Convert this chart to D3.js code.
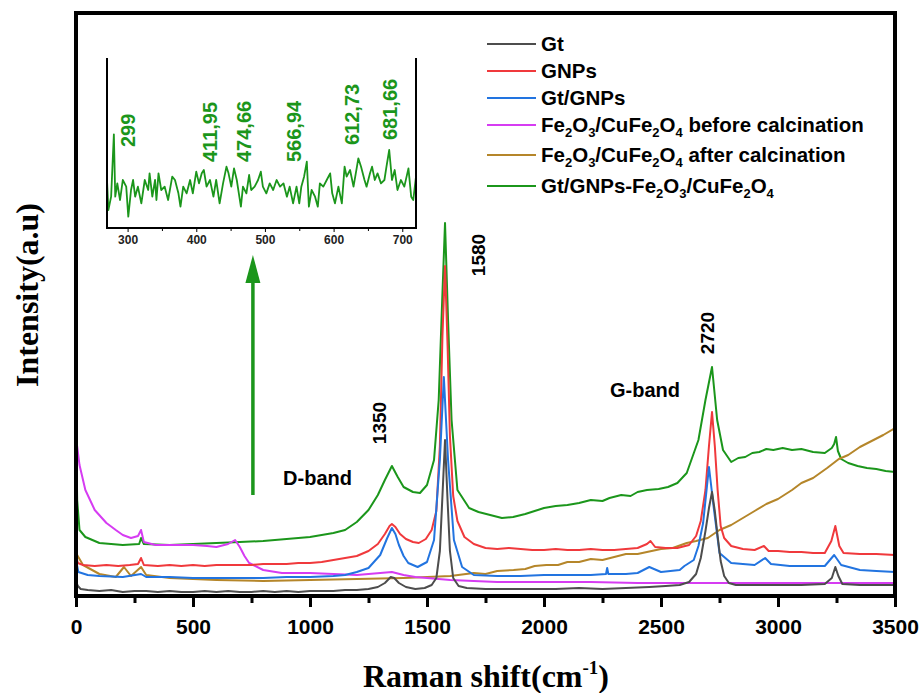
<!DOCTYPE html>
<html>
<head>
<meta charset="utf-8">
<script src="https://cdn.jsdelivr.net/npm/d3@7"></script>
<style>
  body { margin: 0; background: #fff; }
  text { font-family: "Liberation Sans", Arial, sans-serif; }
</style>
</head>
<body>
<svg id="chart"></svg>
<script>
// Raman spectra, [wavenumber, intensity (a.u.)]
const gt = [[0,14],[8,10],[20,7],[50,6],[100,5],[150,6],[200,4],[250,5],[300,5],[350,4],[400,5],[450,4],[500,4],[550,5],[600,4],[650,5],[700,4],[750,4],[800,5],[850,4],[900,5],[950,4],[1000,5],[1050,5],[1100,5],[1150,6],[1200,6],[1250,7],[1290,9],[1320,13],[1345,19],[1360,18],[1380,13],[1410,9],[1450,7],[1490,8],[1520,11],[1540,18],[1555,45],[1565,95],[1577,156],[1588,95],[1598,45],[1612,18],[1635,10],[1670,8],[1750,7],[1850,7],[1950,7],[2050,7],[2150,8],[2250,7],[2350,8],[2450,9],[2520,10],[2580,11],[2620,14],[2650,22],[2670,38],[2690,65],[2705,88],[2718,104],[2730,85],[2742,60],[2755,35],[2770,20],[2790,13],[2820,11],[2900,11],[3000,11],[3100,11],[3200,12],[3230,18],[3245,29],[3258,20],[3275,12],[3350,11],[3420,11],[3500,11]];

const gnps = [[0,40],[8,33],[30,31],[80,30],[130,31],[180,30],[230,31],[265,32],[278,38],[290,31],[350,30],[400,31],[450,30],[500,31],[550,30],[600,31],[650,31],[700,31],[750,31],[800,32],[850,32],[900,32],[950,33],[1000,33],[1050,34],[1100,36],[1150,38],[1200,40],[1250,45],[1290,52],[1320,62],[1340,70],[1350,72],[1365,69],[1385,62],[1410,57],[1440,54],[1465,53],[1495,57],[1520,66],[1540,85],[1555,150],[1566,260],[1577,330],[1588,250],[1598,160],[1612,100],[1630,75],[1660,59],[1700,52],[1750,48],[1800,47],[1850,48],[1900,47],[1950,46],[2000,46],[2050,47],[2100,46],[2150,46],[2200,47],[2250,46],[2300,46],[2350,47],[2400,48],[2440,52],[2455,55],[2475,49],[2520,48],[2570,48],[2620,51],[2650,60],[2670,75],[2690,106],[2705,150],[2718,184],[2730,150],[2742,106],[2755,70],[2770,58],[2800,50],[2850,47],[2900,46],[2940,50],[2960,45],[3000,45],[3050,44],[3100,44],[3150,43],[3200,43],[3228,55],[3245,70],[3262,50],[3280,43],[3350,42],[3420,42],[3500,41]];

const gtGnps = [[0,36],[10,24],[50,21],[100,20],[200,19],[278,22],[300,19],[400,19],[500,18],[600,18],[700,18],[800,18],[900,19],[1000,19],[1100,20],[1150,21],[1200,24],[1250,28],[1300,41],[1330,58],[1350,68],[1365,62],[1380,51],[1400,40],[1420,33],[1460,29],[1500,34],[1530,56],[1555,136],[1572,219],[1590,136],[1615,56],[1650,29],[1700,21],[1800,20],[1900,20],[2000,21],[2100,21],[2200,21],[2265,22],[2270,28],[2275,22],[2350,22],[2400,23],[2450,29],[2500,24],[2580,26],[2600,30],[2640,36],[2660,50],[2680,73],[2705,129],[2725,89],[2750,43],[2800,33],[2900,31],[2945,38],[2970,32],[3050,30],[3100,30],[3200,30],[3240,41],[3270,31],[3350,26],[3420,25],[3500,24]];

const beforeCalc = [[0,159],[15,131],[40,106],[80,86],[130,73],[170,66],[200,61],[235,58],[265,60],[278,66],[290,54],[340,51],[400,51],[500,51],[560,50],[600,49],[650,52],[680,56],[700,49],[720,40],[740,33],[800,26],[880,23],[1000,23],[1100,22],[1200,21],[1300,23],[1350,24],[1400,21],[1450,19],[1600,16],[1800,14],[2000,14],[2200,14],[2400,13],[2600,13],[2800,13],[3000,13],[3200,13],[3400,13],[3500,13]];

const afterCalc = [[0,43],[30,31],[100,22],[170,19],[205,29],[235,20],[278,29],[300,21],[400,18],[600,16],[800,15],[1000,16],[1200,17],[1400,18],[1600,20],[1700,23],[1750,22],[1800,25],[1870,26],[1920,27],[1960,30],[2010,31],[2060,31],[2100,34],[2150,34],[2200,37],[2250,36],[2300,39],[2350,42],[2400,42],[2440,44],[2500,47],[2550,48],[2610,53],[2650,55],[2700,58],[2750,66],[2800,71],[2850,78],[2900,85],[2950,92],[3000,97],[3060,106],[3100,113],[3150,118],[3210,128],[3260,137],[3300,141],[3350,149],[3400,155],[3450,161],[3500,168]];

const composite = [[0,174],[5,96],[15,66],[40,59],[100,53],[200,51],[270,52],[278,58],[290,52],[400,51],[500,52],[600,53],[700,54],[800,55],[900,57],[1000,59],[1100,63],[1150,66],[1200,74],[1250,86],[1290,101],[1320,116],[1350,130],[1375,119],[1400,109],[1440,104],[1470,103],[1500,111],[1530,136],[1550,196],[1565,296],[1577,373],[1590,276],[1605,176],[1630,106],[1680,88],[1720,84],[1770,81],[1820,78],[1868,79],[1920,82],[1960,85],[2000,88],[2050,90],[2100,91],[2150,93],[2200,96],[2250,95],[2280,98],[2330,101],[2370,100],[2400,104],[2440,106],[2490,107],[2530,109],[2570,113],[2610,123],[2660,156],[2690,196],[2718,229],[2740,176],[2765,146],[2800,134],[2830,138],[2860,139],[2890,143],[2920,144],[2950,147],[2980,146],[3020,148],[3060,146],[3100,147],[3150,144],[3200,143],[3230,148],[3240,152],[3248,159],[3256,145],[3270,137],[3300,133],[3340,130],[3380,128],[3420,127],[3460,125],[3500,124]];

// inset: composite spectrum zoomed 270-720 cm-1
const insetSpectrum = [[270,180],[272,90],[276,130],[280,317],[282,130],[285,170],[289,120],[293,180],[298,160],[301,70],[305,150],[308,180],[311,130],[315,160],[320,110],[325,180],[330,150],[332,200],[336,130],[340,180],[342,120],[345,200],[349,150],[354,160],[359,120],[365,190],[369,180],[374,140],[377,100],[381,160],[386,140],[391,180],[395,140],[400,205],[404,170],[408,200],[411,210],[415,160],[420,180],[425,130],[429,180],[434,110],[439,170],[444,220],[447,200],[451,160],[455,215],[459,180],[462,140],[465,100],[468,160],[473,140],[477,195],[480,150],[485,160],[490,180],[494,205],[497,160],[502,140],[507,170],[512,150],[517,180],[522,160],[527,170],[532,130],[536,160],[541,110],[546,160],[550,110],[553,160],[557,190],[561,235],[564,100],[568,150],[573,130],[577,100],[580,170],[585,160],[590,180],[595,200],[598,140],[602,110],[607,160],[612,110],[616,220],[619,190],[624,210],[629,160],[634,220],[636,245],[640,220],[645,180],[648,160],[653,200],[656,220],[660,180],[664,200],[669,170],[674,180],[677,220],[681,270],[685,180],[689,210],[693,150],[698,180],[703,160],[709,215],[713,130],[716,120],[720,190]];
const insetPeakLabels = ["299", "411,95", "474,66", "566,94", "612,73", "681,66"];
const insetPeakX = [301, 420, 470, 542, 627, 682];
const insetPeakY = [279, 234, 234, 234, 285, 300];

const seriesNames = ["Gt", "GNPs", "Gt/GNPs", "Fe2O3/CuFe2O4 before calcination", "Fe2O3/CuFe2O4 after calcination", "Gt/GNPs-Fe2O3/CuFe2O4"];
const seriesData = [gt, gnps, gtGnps, beforeCalc, afterCalc, composite];
const colors = ["#4d4d4d", "#f0393c", "#2274e0", "#d63cf2", "#b5862a", "#1b961b"];

const xTicks = [0, 500, 1000, 1500, 2000, 2500, 3000, 3500];
const xMinor = [250, 750, 1250, 1750, 2250, 2750, 3250];
const insetTicks = [300, 400, 500, 600, 700];
const insetMinor = [350, 450, 550, 650];

// band annotations
const bandLabels = ["1350", "1580", "2720"];
const bandX = [1299, 1718, 2697];
const bandY = [173, 341, 263];

const W = 921, H = 693;
const svg = d3.select("#chart").attr("width", W).attr("height", H);
svg.append("rect").attr("width", W).attr("height", H).attr("fill", "#fff");

const x = d3.scaleLinear().domain([0, 3500]).range([76, 895]);
const y = d3.scaleLinear().domain([0, 583]).range([596, 13]);

svg.append("clipPath").attr("id", "plotclip")
  .append("rect").attr("x", 76).attr("y", 13).attr("width", 819).attr("height", 583);

const line = d3.line().x(d => x(d[0])).y(d => y(d[1]));

// draw composite first so the narrow peaks sit on top
const drawOrder = [5, 4, 3, 1, 2, 0];
const plot = svg.append("g").attr("clip-path", "url(#plotclip)");
drawOrder.forEach(i => {
  plot.append("path")
    .datum(seriesData[i])
    .attr("fill", "none")
    .attr("stroke", colors[i])
    .attr("stroke-width", 2)
    .attr("stroke-linejoin", "round")
    .attr("d", line);
});

// frame
svg.append("rect")
  .attr("x", 76).attr("y", 13).attr("width", 819).attr("height", 583)
  .attr("fill", "none").attr("stroke", "#000").attr("stroke-width", 4);

// x axis
const xAxis = svg.append("g").attr("transform", "translate(0,596)")
  .call(d3.axisBottom(x).tickValues(xTicks).tickSize(11).tickPadding(12).tickFormat(d3.format("d")));
xAxis.select(".domain").remove();
xAxis.selectAll("line").attr("stroke-width", 3);
xAxis.selectAll("text").attr("font-size", 21).attr("font-weight", "bold")
  .attr("font-family", "'Liberation Sans', Arial, sans-serif").attr("fill", "#000");

const xAxisMinor = svg.append("g").attr("transform", "translate(0,596)")
  .call(d3.axisBottom(x).tickValues(xMinor).tickSize(7).tickFormat(""));
xAxisMinor.select(".domain").remove();
xAxisMinor.selectAll("line").attr("stroke-width", 3);

// axis titles
svg.append("text")
  .attr("x", 486).attr("y", 687)
  .attr("text-anchor", "middle")
  .style("font-family", "'Liberation Serif', 'Times New Roman', serif")
  .attr("font-size", 32).attr("font-weight", "bold")
  .call(t => {
    t.append("tspan").text("Raman shift(cm");
    t.append("tspan").attr("font-size", 19).attr("dy", -13).text("-1");
    t.append("tspan").attr("dy", 13).text(")");
  });

svg.append("text")
  .attr("transform", "translate(38,295) rotate(-90)")
  .attr("text-anchor", "middle")
  .style("font-family", "'Liberation Serif', 'Times New Roman', serif")
  .attr("font-size", 32).attr("font-weight", "bold")
  .text("Intensity(a.u)");

// band labels
bandLabels.forEach((lab, i) => {
  svg.append("text")
    .attr("transform", `translate(${x(bandX[i])},${y(bandY[i])}) rotate(-90)`)
    .attr("text-anchor", "middle").attr("dominant-baseline", "central")
    .attr("font-size", 19).attr("font-weight", "bold")
    .text(lab);
});
svg.append("text").attr("x", x(885)).attr("y", y(111)).attr("font-size", 20)
  .attr("font-weight", "bold").text("D-band");
svg.append("text").attr("x", x(2282)).attr("y", y(199)).attr("font-size", 20)
  .attr("font-weight", "bold").text("G-band");

// arrow pointing to the inset
const green = "#1b961b";
svg.append("line")
  .attr("x1", x(756)).attr("x2", x(756))
  .attr("y1", y(101)).attr("y2", y(318))
  .attr("stroke", green).attr("stroke-width", 3.5);
svg.append("path")
  .attr("d", d3.line()([[x(756) - 7.5, y(313)], [x(756), y(341)], [x(756) + 7.5, y(313)]]) + "Z")
  .attr("fill", green);

// legend, digits in chemical formulas become subscripts
function subText(sel, str) {
  let down = false;
  str.split(/(\d)/).forEach(part => {
    if (part === "") return;
    const isDigit = /^\d$/.test(part);
    const ts = sel.append("tspan").text(part);
    if (isDigit) {
      ts.attr("font-size", 13).attr("dy", down ? 0 : 5);
      down = true;
    } else if (down) {
      ts.attr("dy", -5);
      down = false;
    }
  });
}
const legendY = [44, 71, 98, 125, 155, 186];
const legend = svg.append("g");
seriesNames.forEach((name, i) => {
  legend.append("line")
    .attr("x1", 487).attr("x2", 536)
    .attr("y1", legendY[i]).attr("y2", legendY[i])
    .attr("stroke", colors[i]).attr("stroke-width", 1.8);
  const t = legend.append("text")
    .attr("x", 541).attr("y", legendY[i] + 7)
    .attr("font-size", 20.5).attr("font-weight", "bold");
  subText(t, name);
});

// inset
const ix = d3.scaleLinear().domain([270, 720]).range([107, 416]);
const iy = d3.scaleLinear().domain([36, 546]).range([228, 58]);
const inset = svg.append("g");
inset.append("path")
  .datum(insetSpectrum)
  .attr("fill", "none").attr("stroke", green).attr("stroke-width", 1.8)
  .attr("stroke-linejoin", "round")
  .attr("d", d3.line().x(d => ix(d[0])).y(d => iy(d[1])));
inset.append("path")
  .attr("d", `M${ix(270)},${iy(546)}V${iy(36)}H${ix(720)}V${iy(546)}`)
  .attr("fill", "none").attr("stroke", "#000").attr("stroke-width", 2);
const iAxis = inset.append("g").attr("transform", `translate(0,${iy(36)})`)
  .call(d3.axisBottom(ix).tickValues(insetTicks).tickSize(4).tickPadding(3));
iAxis.select(".domain").remove();
iAxis.selectAll("text").attr("font-size", 12).attr("font-weight", "bold")
  .attr("font-family", "'Liberation Sans', Arial, sans-serif").attr("fill", "#222");
const iAxisMinor = inset.append("g").attr("transform", `translate(0,${iy(36)})`)
  .call(d3.axisBottom(ix).tickValues(insetMinor).tickSize(3).tickFormat(""));
iAxisMinor.select(".domain").remove();

insetPeakLabels.forEach((lab, i) => {
  inset.append("text")
    .attr("transform", `translate(${ix(insetPeakX[i])},${iy(insetPeakY[i])}) rotate(-90)`)
    .attr("text-anchor", "start").attr("dominant-baseline", "central")
    .attr("font-size", 20).attr("font-weight", "bold").attr("fill", green)
    .text(lab);
});
</script>
</body>
</html>
